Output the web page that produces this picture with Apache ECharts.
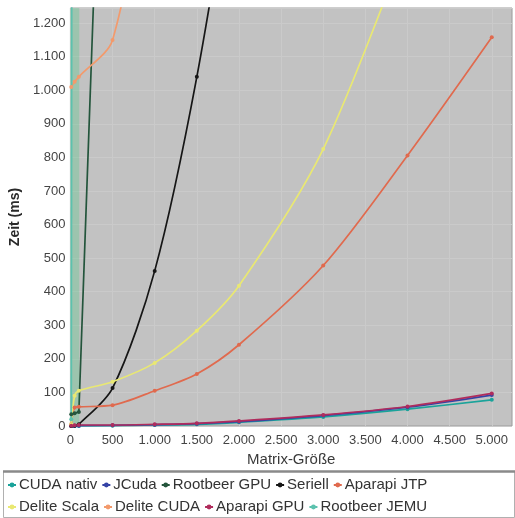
<!DOCTYPE html>
<html><head><meta charset="utf-8">
<script src="https://cdn.jsdelivr.net/npm/echarts@6/dist/echarts.min.js"></script>
<style>html,body{margin:0;padding:0;background:#fff}#c{width:515px;height:518px}</style>
</head><body><div id="c"></div>
<script>
const sizes = [10, 50, 100, 500, 1000, 1500, 2000, 3000, 4000, 5000];
const seriesNames = ["CUDA nativ","JCuda","Rootbeer GPU","Seriell","Aparapi JTP","Delite Scala","Delite CUDA","Aparapi GPU","Rootbeer JEMU"];
const cudaNativ   = [0, 0, 0, 1, 3, 5, 11, 27, 50, 78];
const jcuda       = [0, 0, 1, 2, 4, 7, 13, 31, 56, 92];
const rootbeerGpu = [35, 38, 42, 2850, null, null, null, null, null, null];
const seriell     = [0, 1, 5, 113, 462, 1040, 1800, null, null, null];
const aparapiJtp  = [5, 55, 57, 62, 105, 155, 242, 478, 806, 1158];
const deliteScala = [5, 90, 105, 132, 188, 284, 418, 825, 1450, null];
const deliteCuda  = [1010, 1025, 1040, 1150, 1800, null, null, null, null, null];
const aparapiGpu  = [1, 2, 3, 3, 5, 8, 15, 33, 58, 97];
const rootbeerJemu= [20, 9000, null, null, null, null, null, null, null, null];
const jemuBand    = [0, 105];
const yTicks = {min: 0, max: 1245, interval: 100};
const xTicks = {min: 0, max: 5240, interval: 500};

const values = [cudaNativ, jcuda, rootbeerGpu, seriell, aparapiJtp, deliteScala, deliteCuda, aparapiGpu, rootbeerJemu];
const colors = ["#1aa39a", "#3543a6", "#24553c", "#161616", "#e06a4e", "#e9e872", "#f39a6c", "#b02c5c", "#5cc2ae"];
const smooths = [0.3, 0.3, false, 0.3, 0.3, 0.3, 0.3, 0.3, false];

function fmt(v){ return String(v).replace(/\B(?=(\d{3})+(?!\d))/g, "."); }

const series = seriesNames.map((n, i) => {
  const s = {
    name: n, type: 'line',
    data: sizes.map((x, j) => [x, values[i][j]]),
    connectNulls: false,
    smooth: smooths[i],
    symbol: 'circle', symbolSize: 4,
    showSymbol: true,
    lineStyle: {width: 1.7, color: colors[i]},
    itemStyle: {color: colors[i]},
    z: 3
  };
  if (n === "Rootbeer JEMU") {
    s.markArea = {silent: true, itemStyle: {color: 'rgba(110,200,150,0.45)'},
      data: [[{xAxis: jemuBand[0]}, {xAxis: jemuBand[1]}]]};
  }
  return s;
});

const chart = echarts.init(document.getElementById('c'), null, {renderer: 'canvas'});
chart.setOption({
  animation: false,
  backgroundColor: '#ffffff',
  textStyle: {fontFamily: 'Liberation Sans, Arial, sans-serif'},
  grid: {left: 69, right: 3, top: 8, bottom: 92, show: true, backgroundColor: '#c2c2c2', borderColor: '#9c9c9c', borderWidth: 1},
  graphic: [
    {type: 'rect', left: 3, top: 471, shape: {width: 511, height: 46}, style: {fill: '#fff', stroke: '#b0b0b0', lineWidth: 1}, z: 0},
    {type: 'line', shape: {x1: 3, y1: 471.5, x2: 515, y2: 471.5}, style: {stroke: '#8a8a8a', lineWidth: 2.5}, z: 1}
  ],
  xAxis: {
    type: 'value', min: xTicks.min, max: xTicks.max, interval: xTicks.interval,
    name: 'Matrix-Größe', nameLocation: 'middle', nameGap: 25,
    nameTextStyle: {fontSize: 15, color: '#3a3a3a'},
    axisLine: {show: false}, axisTick: {show: false},
    axisLabel: {fontSize: 13, color: '#444', margin: 8, showMaxLabel: false, formatter: fmt},
    splitLine: {show: true, lineStyle: {color: '#cacaca', width: 1}}
  },
  yAxis: {
    type: 'value', min: yTicks.min, max: yTicks.max, interval: yTicks.interval,
    name: 'Zeit (ms)', nameLocation: 'middle', nameGap: 40, nameRotate: 90,
    nameTextStyle: {fontSize: 14, color: '#2a2a2a', fontWeight: 'bold'},
    axisLine: {show: false}, axisTick: {show: false},
    axisLabel: {fontSize: 13, color: '#444', margin: 5, showMaxLabel: false, formatter: fmt},
    splitLine: {show: true, lineStyle: {color: '#cacaca', width: 1}}
  },
  legend: {
    data: seriesNames,
    left: 3, top: 472, width: 500,
    padding: [4, 4, 3, 4],
    itemWidth: 8, itemHeight: 6, itemGap: 4,
    textStyle: {fontSize: 15, color: '#333', lineHeight: 18, padding: [0, 0, 0, -2]}
  },
  series: series
});
</script>
</body></html>
